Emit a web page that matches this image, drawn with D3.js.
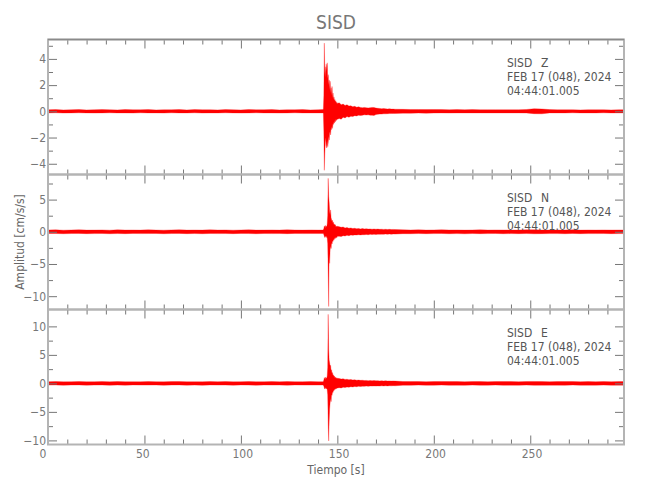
<!DOCTYPE html>
<html>
<head>
<meta charset="utf-8">
<script src="https://cdn.jsdelivr.net/npm/d3@7"></script>
<style>
  html, body { margin: 0; padding: 0; background: #fff; }
  svg { display: block; }
</style>
</head>
<body>
<svg id="chart" width="650" height="500"></svg>
<script>
// ---------------- DATA ----------------
const title = "SISD";
const station = "SISD";
const channels = ["Z", "N", "E"];
const dateLine = "FEB 17 (048), 2024";
const timeLine = "04:44:01.005";
const xLabel = "Tiempo [s]";
const yLabel = "Amplitud [cm/s/s]";
const xMax = 298.6;
const xMajorTicks = [0, 50, 100, 150, 200, 250];
const xMinorTicks = [10,20,30,40,60,70,80,90,110,120,130,140,160,170,180,190,210,220,230,240,260,270,280,290];

// y ranges per panel (Z, N, E)
const yDomZ = [-4.82, 5.48];
const yDomN = [-12.07, 8.9];
const yDomE = [-10.72, 12.96];
const yMajorZ = [-4, -2, 0, 2, 4];
const yMinorZ = [-3, -1, 1, 3, 5];
const yMajorN = [-10, -5, 0, 5];
const yMinorN = [-7.5, -2.5, 2.5, 7.5];
const yMajorE = [-10, -5, 0, 5, 10];
const yMinorE = [-7.5, -2.5, 2.5, 7.5];

// time of each envelope sample (s)
const times = [
  0,4,8,12,16,20,24,28,32,36,40,44,48,52,56,60,64,68,72,76,80,84,88,92,96,100,104,108,112,116,120,124,128,132,136,140,
  142.5,142.75,143,143.25,143.5,143.75,144,144.25,144.5,144.75,145,145.25,145.5,145.75,146,146.25,146.5,146.75,147,147.25,147.5,147.75,148,148.25,148.5,148.75,149,149.25,149.5,149.75,150,
  151,152,153,154,155,156,157,158,159,160,161,162,163,164,165,166,167,168,169,170,171,172,173,174,175,176,177,178,179,180,
  184,188,192,196,200,204,208,212,216,220,224,228,232,236,240,244,248,252,256,260,264,268,272,276,280,284,288,292,296,298.5
];

// Z channel: upper / lower envelope (cm/s/s)
const zHigh = [
  0.12,0.13,0.11,0.12,0.14,0.11,0.12,0.13,0.12,0.11,0.14,0.12,0.12,0.13,0.11,0.12,0.12,0.14,0.11,0.13,0.12,0.12,0.11,0.13,0.12,0.11,0.14,0.12,0.12,0.13,0.11,0.12,0.12,0.13,0.11,0.12,
  0.13,0.16,1.2,5.2,2.8,3.4,2.6,3.6,3.1,3.7,2.5,2.8,2.0,2.4,1.6,2.3,1.4,1.8,1.2,1.9,1.0,1.4,0.9,1.1,0.8,0.9,0.7,0.8,0.6,0.7,0.6,
  0.65,0.5,0.55,0.45,0.5,0.4,0.42,0.35,0.38,0.32,0.34,0.3,0.28,0.3,0.27,0.26,0.28,0.3,0.29,0.25,0.23,0.22,0.2,0.21,0.19,0.18,0.19,0.17,0.17,0.16,
  0.15,0.14,0.14,0.13,0.14,0.13,0.12,0.13,0.12,0.13,0.12,0.12,0.12,0.12,0.12,0.12,0.14,0.2,0.18,0.13,0.12,0.12,0.12,0.11,0.12,0.12,0.12,0.11,0.12,0.12
];
const zLow = [
  -0.12,-0.11,-0.13,-0.12,-0.11,-0.12,-0.13,-0.12,-0.11,-0.12,-0.12,-0.13,-0.11,-0.12,-0.12,-0.13,-0.11,-0.12,-0.12,-0.11,-0.13,-0.12,-0.12,-0.11,-0.12,-0.13,-0.12,-0.11,-0.12,-0.12,-0.13,-0.12,-0.11,-0.12,-0.12,-0.12,
  -0.12,-0.15,-1.5,-4.5,-3.2,-2.4,-2.0,-2.6,-2.8,-2.2,-2.7,-2.4,-1.9,-2.2,-1.7,-1.5,-1.8,-1.2,-1.4,-1.1,-1.3,-0.9,-1.0,-0.8,-0.9,-0.7,-0.8,-0.6,-0.7,-0.6,-0.6,
  -0.55,-0.6,-0.45,-0.5,-0.4,-0.45,-0.38,-0.4,-0.33,-0.35,-0.3,-0.32,-0.3,-0.27,-0.28,-0.27,-0.29,-0.3,-0.31,-0.25,-0.22,-0.21,-0.21,-0.19,-0.19,-0.18,-0.17,-0.17,-0.16,-0.16,
  -0.14,-0.15,-0.13,-0.14,-0.13,-0.12,-0.13,-0.12,-0.12,-0.12,-0.12,-0.12,-0.12,-0.12,-0.12,-0.12,-0.13,-0.18,-0.19,-0.12,-0.12,-0.12,-0.11,-0.12,-0.12,-0.12,-0.11,-0.12,-0.12,-0.12
];

// N channel
const nHigh = [
  0.27,0.3,0.25,0.28,0.31,0.26,0.27,0.29,0.25,0.3,0.27,0.28,0.26,0.3,0.27,0.25,0.29,0.31,0.26,0.28,0.26,0.3,0.27,0.29,0.25,0.28,0.3,0.26,0.27,0.29,0.26,0.3,0.28,0.26,0.29,0.27,
  0.28,0.3,0.5,0.9,0.7,1.0,0.6,0.9,0.8,1.2,2.5,8.3,5.5,4.6,3.2,2.6,3.4,2.2,1.9,1.6,1.8,1.3,1.5,1.1,1.2,1.0,1.1,0.8,0.9,0.8,0.85,
  0.8,0.7,0.75,0.6,0.65,0.55,0.6,0.5,0.55,0.48,0.5,0.45,0.5,0.45,0.46,0.42,0.45,0.4,0.44,0.4,0.42,0.38,0.4,0.37,0.39,0.36,0.38,0.35,0.37,0.34,
  0.3,0.28,0.3,0.27,0.29,0.31,0.28,0.29,0.26,0.28,0.3,0.27,0.29,0.28,0.28,0.26,0.3,0.31,0.28,0.27,0.29,0.28,0.3,0.26,0.28,0.27,0.29,0.27,0.28,0.28
];
const nLow = [
  -0.27,-0.26,-0.3,-0.27,-0.25,-0.29,-0.28,-0.26,-0.3,-0.27,-0.29,-0.25,-0.28,-0.27,-0.26,-0.3,-0.27,-0.25,-0.29,-0.27,-0.3,-0.26,-0.28,-0.27,-0.29,-0.25,-0.27,-0.3,-0.26,-0.28,-0.27,-0.29,-0.25,-0.28,-0.27,-0.27,
  -0.27,-0.28,-0.45,-0.7,-0.9,-0.6,-0.8,-0.9,-0.6,-1.0,-1.8,-6.0,-11.6,-3.5,-4.9,-2.8,-2.2,-2.6,-1.7,-1.9,-1.4,-1.5,-1.1,-1.3,-0.9,-1.1,-0.8,-1.0,-0.8,-0.9,-0.7,
  -0.7,-0.75,-0.6,-0.65,-0.55,-0.6,-0.5,-0.55,-0.48,-0.5,-0.45,-0.48,-0.45,-0.45,-0.42,-0.45,-0.4,-0.43,-0.4,-0.42,-0.38,-0.4,-0.37,-0.39,-0.36,-0.38,-0.35,-0.37,-0.34,-0.36,
  -0.29,-0.3,-0.27,-0.29,-0.28,-0.26,-0.3,-0.28,-0.31,-0.27,-0.29,-0.28,-0.26,-0.3,-0.28,-0.29,-0.27,-0.31,-0.29,-0.28,-0.28,-0.3,-0.26,-0.29,-0.28,-0.28,-0.27,-0.29,-0.28,-0.28
];

// E channel
const eHigh = [
  0.29,0.32,0.27,0.3,0.33,0.28,0.3,0.31,0.27,0.33,0.29,0.3,0.28,0.32,0.3,0.27,0.31,0.33,0.29,0.3,0.28,0.32,0.3,0.31,0.27,0.3,0.33,0.29,0.3,0.31,0.28,0.32,0.3,0.29,0.31,0.3,
  0.3,0.34,0.6,1.0,0.8,1.1,0.7,1.0,0.9,1.3,2.8,12.1,6.0,4.1,3.6,3.0,3.2,2.2,2.4,1.7,1.9,1.4,1.5,1.2,1.3,1.0,1.1,0.9,1.0,0.85,0.9,
  0.85,0.75,0.8,0.7,0.72,0.65,0.68,0.6,0.62,0.56,0.58,0.53,0.55,0.5,0.52,0.48,0.5,0.47,0.49,0.45,0.47,0.44,0.46,0.43,0.45,0.42,0.44,0.41,0.43,0.4,
  0.33,0.31,0.33,0.3,0.32,0.34,0.31,0.32,0.29,0.31,0.33,0.3,0.32,0.31,0.31,0.29,0.33,0.34,0.31,0.3,0.32,0.31,0.33,0.29,0.31,0.3,0.32,0.3,0.31,0.31
];
const eLow = [
  -0.3,-0.28,-0.32,-0.29,-0.27,-0.31,-0.3,-0.28,-0.33,-0.29,-0.31,-0.27,-0.3,-0.3,-0.28,-0.32,-0.29,-0.27,-0.31,-0.3,-0.33,-0.28,-0.3,-0.29,-0.31,-0.27,-0.3,-0.32,-0.28,-0.3,-0.29,-0.31,-0.27,-0.3,-0.3,-0.29,
  -0.29,-0.31,-0.5,-0.8,-1.0,-0.7,-0.9,-1.0,-0.8,-1.1,-2.0,-7.0,-10.1,-6.7,-4.5,-3.4,-2.6,-3.2,-2.0,-2.1,-1.5,-1.6,-1.2,-1.3,-1.0,-1.1,-0.9,-1.0,-0.85,-0.9,-0.8,
  -0.75,-0.8,-0.68,-0.72,-0.63,-0.66,-0.58,-0.62,-0.55,-0.58,-0.52,-0.55,-0.5,-0.52,-0.48,-0.5,-0.46,-0.48,-0.45,-0.47,-0.44,-0.46,-0.43,-0.45,-0.42,-0.44,-0.41,-0.43,-0.4,-0.42,
  -0.32,-0.33,-0.3,-0.32,-0.31,-0.29,-0.33,-0.31,-0.34,-0.3,-0.32,-0.31,-0.29,-0.33,-0.31,-0.32,-0.3,-0.34,-0.32,-0.31,-0.31,-0.33,-0.29,-0.32,-0.31,-0.31,-0.3,-0.32,-0.31,-0.31
];

// ---------------- LAYOUT ----------------
const svg = d3.select("#chart");
const mL = 48, mR = 624, mT = 39.5, panelH = 135;
const FONT = "'DejaVu Sans Condensed','Liberation Sans Narrow',sans-serif";
const TXT = "#777", TICK = "#777", FRAME = "#b4b4b4";

const x = d3.scaleLinear().domain([0, xMax]).range([mL, mR]);

const panels = [
  {ch: channels[0], hi: zHigh, lo: zLow, dom: yDomZ, maj: yMajorZ, min: yMinorZ},
  {ch: channels[1], hi: nHigh, lo: nLow, dom: yDomN, maj: yMajorN, min: yMinorN},
  {ch: channels[2], hi: eHigh, lo: eLow, dom: yDomE, maj: yMajorE, min: yMinorE}
];

const fmt = d => (d < 0 ? "\u2212" + Math.abs(d) : String(d));

panels.forEach((p, i) => {
  const y0 = mT + i * panelH, y1 = y0 + panelH;
  const y = d3.scaleLinear().domain(p.dom).range([y1, y0]);
  const g = svg.append("g");

  const cid = "clip" + i;
  svg.append("clipPath").attr("id", cid).append("rect")
    .attr("x", mL).attr("y", y0).attr("width", mR - mL).attr("height", panelH);

  const rows = times.map((t, k) => ({t, hi: p.hi[k], lo: p.lo[k]}));
  const area = d3.area().x(d => x(d.t)).y0(d => y(d.lo)).y1(d => y(d.hi));
  g.append("path").datum(rows).attr("clip-path", `url(#${cid})`)
    .attr("d", area).attr("fill", "#ff0000").attr("stroke", "#ff0000")
    .attr("stroke-width", 0.3).attr("stroke-linejoin", "miter");

  const styleAxis = sel => {
    sel.select(".domain").remove();
    sel.selectAll(".tick line").attr("stroke", TICK).attr("stroke-width", 1);
    sel.selectAll("text").attr("fill", TXT).attr("font-family", FONT).attr("font-size", 12);
  };

  g.append("g").attr("transform", `translate(${mL},0)`)
    .call(d3.axisLeft(y).tickValues(p.maj).tickSize(-9).tickPadding(2).tickFormat(fmt))
    .call(styleAxis);
  g.append("g").attr("transform", `translate(${mL},0)`)
    .call(d3.axisLeft(y).tickValues(p.min).tickSize(-5).tickFormat(""))
    .call(styleAxis);
  g.append("g").attr("transform", `translate(${mR},0)`)
    .call(d3.axisRight(y).tickValues(p.maj).tickSize(-9).tickFormat(""))
    .call(styleAxis);
  g.append("g").attr("transform", `translate(${mR},0)`)
    .call(d3.axisRight(y).tickValues(p.min).tickSize(-5).tickFormat(""))
    .call(styleAxis);
  g.append("g").attr("transform", `translate(0,${y0})`)
    .call(d3.axisTop(x).tickValues(xMajorTicks).tickSize(-9).tickFormat(""))
    .call(styleAxis);
  g.append("g").attr("transform", `translate(0,${y0})`)
    .call(d3.axisTop(x).tickValues(xMinorTicks).tickSize(-5).tickFormat(""))
    .call(styleAxis);
  const bx = g.append("g").attr("transform", `translate(0,${y1})`)
    .call(d3.axisBottom(x).tickValues(xMajorTicks).tickSize(-9).tickPadding(5)
      .tickFormat(i === 2 ? d3.format("d") : ""))
    .call(styleAxis);
  bx.selectAll("text").attr("text-anchor", "start").attr("dx", -9);
  g.append("g").attr("transform", `translate(0,${y1})`)
    .call(d3.axisBottom(x).tickValues(xMinorTicks).tickSize(-5).tickFormat(""))
    .call(styleAxis);

  g.append("rect").attr("x", mL).attr("y", y0).attr("width", mR - mL).attr("height", panelH)
    .attr("fill", "none").attr("stroke", FRAME).attr("stroke-width", 2);

  const ann = g.append("g").attr("font-family", FONT).attr("font-size", 12).attr("fill", "#555");
  ann.append("text").attr("x", 507).attr("y", y0 + 27).text(station);
  ann.append("text").attr("x", 541).attr("y", y0 + 27).text(p.ch);
  ann.append("text").attr("x", 507).attr("y", y0 + 41).text(dateLine);
  ann.append("text").attr("x", 507).attr("y", y0 + 55).text(timeLine);
});

svg.append("line").attr("x1", mL).attr("x2", mR).attr("y1", mT).attr("y2", mT)
  .attr("stroke", "#8a8a8a").attr("stroke-width", 1.5);

svg.append("text").attr("x", (mL + mR) / 2).attr("y", 29).attr("text-anchor", "middle")
  .attr("font-family", FONT).attr("font-size", 19).attr("fill", "#777").text(title);

svg.append("text").attr("x", (mL + mR) / 2).attr("y", 474).attr("text-anchor", "middle")
  .attr("font-family", FONT).attr("font-size", 12).attr("fill", "#666").text(xLabel);
svg.append("text").attr("transform", `translate(24,${mT + 1.5 * panelH}) rotate(-90)`)
  .attr("text-anchor", "middle").attr("font-family", FONT).attr("font-size", 12)
  .attr("fill", "#666").text(yLabel);
</script>
</body>
</html>
